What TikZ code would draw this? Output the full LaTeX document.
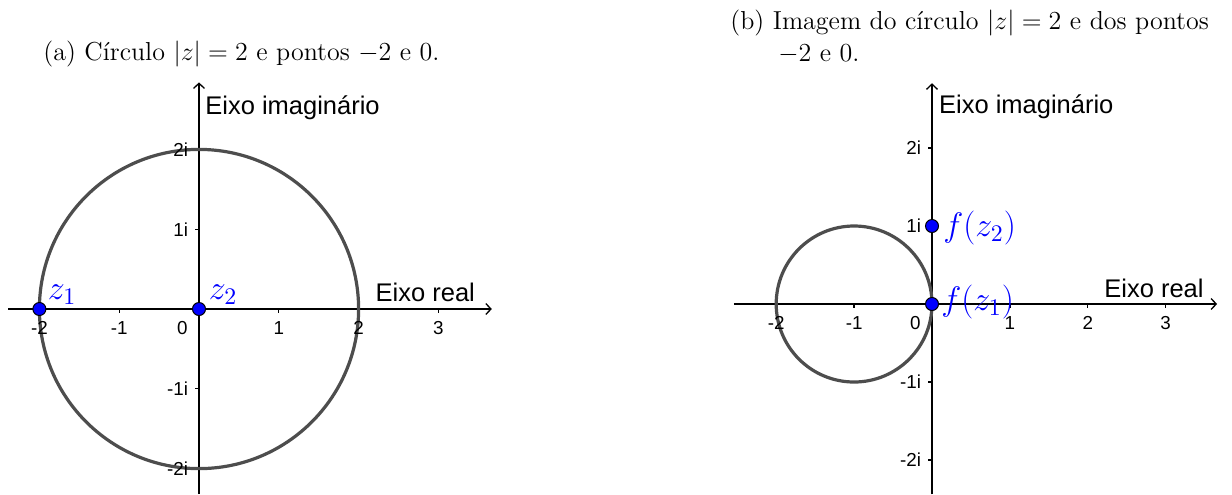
\RequirePackage{fix-cm}
\documentclass[tikz,border=0pt]{standalone}
\usepackage{fontspec}
\newfontfamily\axisfont{Liberation Sans}
\usepackage{tikz}
\usetikzlibrary{arrows.meta,positioning}

\definecolor{curvegray}{RGB}{77,77,77}
\definecolor{ptblue}{RGB}{0,0,255}

\begin{document}
\begin{tikzpicture}[
    axis/.style={line width=0.65pt, -{Straight Barb[length=2.6pt,width=5.5pt]}},
    tickmark/.style={line width=0.65pt},
    ticklabel/.style={font=\axisfont\fontsize{9.4}{11}\selectfont, inner sep=0pt},
    axislabel/.style={font=\axisfont\fontsize{12.75}{14}\selectfont, inner sep=0pt, anchor=base west},
    curve/.style={draw=curvegray, line width=1.6pt},
    cpoint/.style={circle, fill=ptblue, draw=black, line width=0.5pt, minimum size=6.5pt, inner sep=0pt},
    ptlabel/.style={text=ptblue, font=\fontsize{17}{20}\selectfont, inner sep=0pt, anchor=base west},
    caption/.style={font=\fontsize{13}{15.85}\selectfont, inner sep=0pt, anchor=base west}
]
\useasboundingbox (0,0) rectangle (616pt,-247pt);

% captions
\node[caption] (captA) at (21.5pt,-30pt) {(a) Círculo $|z|=2$ e pontos $-2$ e 0.};
\node[caption] (captB) at (365pt,-14.65pt) {(b) Imagem do círculo $|z|=2$ e dos pontos};
\node[caption] (captBb) at ([xshift=24pt,yshift=-15.85pt]captB.base west) {$-2$ e 0.};

% (a) the circle |z|=2
\begin{scope}[shift={(99.5pt,-154.5pt)}, x=39.9pt, y=39.9pt]
    \coordinate (laxL) at (-2.39,0);
    \coordinate (laxR) at (3.67,0);
    \coordinate (layB) at (0,-2.32);
    \coordinate (layT) at (0,2.84);
    \draw[axis] (laxL) -- (laxR);
    \draw[axis] (layB) -- (layT);
    \foreach \x in {-2,-1,1,2,3}
        \draw[tickmark] (\x,0) -- ++(0,-2pt);
    \foreach \y in {-2,-1,1,2}
        \draw[tickmark] (0,\y) -- ++(-2pt,0);
    \draw[curve] (0,0) circle[radius=2];
    \foreach \x in {-2,-1,1,2,3}
        \node[ticklabel, anchor=base, yshift=-12.5pt] (ltx\x) at (\x,0) {\x};
    \node[ticklabel, anchor=base east, xshift=-5.5pt, yshift=-12.5pt] (lzero) at (0,0) {0};
    \foreach \y in {-2,-1,1,2}
        \node[ticklabel, anchor=east, xshift=-5.3pt] (lty\y) at (0,\y) {\y i};
    \node[axislabel] (lim) at (0.075,2.437) {Eixo imaginário};
    \node[axislabel] (lre) at (2.209,0.0915) {Eixo real};
    \node[cpoint] (z1) at (-2,0) {};
    \node[cpoint] (z2) at (0,0) {};
    \node[ptlabel] (z1lbl) at ([shift={(4pt,5pt)}]z1.center) {$z_1$};
    \node[ptlabel] (z2lbl) at ([shift={(4.75pt,5pt)}]z2.center) {$z_2$};
\end{scope}

% (b) its image
\begin{scope}[shift={(466pt,-152pt)}, x=38.95pt, y=39pt]
    \coordinate (raxL) at (-2.545,0);
    \coordinate (raxR) at (3.66,0);
    \coordinate (rayB) at (0,-2.44);
    \coordinate (rayT) at (0,2.83);
    \draw[axis] (raxL) -- (raxR);
    \draw[axis] (rayB) -- (rayT);
    \foreach \x in {-2,-1,1,2,3}
        \draw[tickmark] (\x,0) -- ++(0,-2pt);
    \foreach \y in {-2,-1,1,2}
        \draw[tickmark] (0,\y) -- ++(-2pt,0);
    \draw[curve] (-1,0) circle[radius=1];
    \foreach \x in {-2,-1,1,2,3}
        \node[ticklabel, anchor=base, yshift=-12.5pt] (rtx\x) at (\x,0) {\x};
    \node[ticklabel, anchor=base east, xshift=-5.5pt, yshift=-12.5pt] (rzero) at (0,0) {0};
    \foreach \y in {-2,-1,1,2}
        \node[ticklabel, anchor=east, xshift=-5.3pt] (rty\y) at (0,\y) {\y i};
    \node[axislabel] (rim) at (0.086,2.445) {Eixo imaginário};
    \node[axislabel] (rre) at (2.208,0.081) {Eixo real};
    \node[cpoint] (fz1) at (0,0) {};
    \node[cpoint] (fz2) at (0,1) {};
    \node[ptlabel] (fz2lbl) at ([shift={(5.5pt,-5pt)}]fz2.center) {$f(z_2)$};
    \node[ptlabel] (fz1lbl) at ([shift={(4.5pt,-3pt)}]fz1.center) {$f(z_1)$};
\end{scope}
\end{tikzpicture}
\end{document}
